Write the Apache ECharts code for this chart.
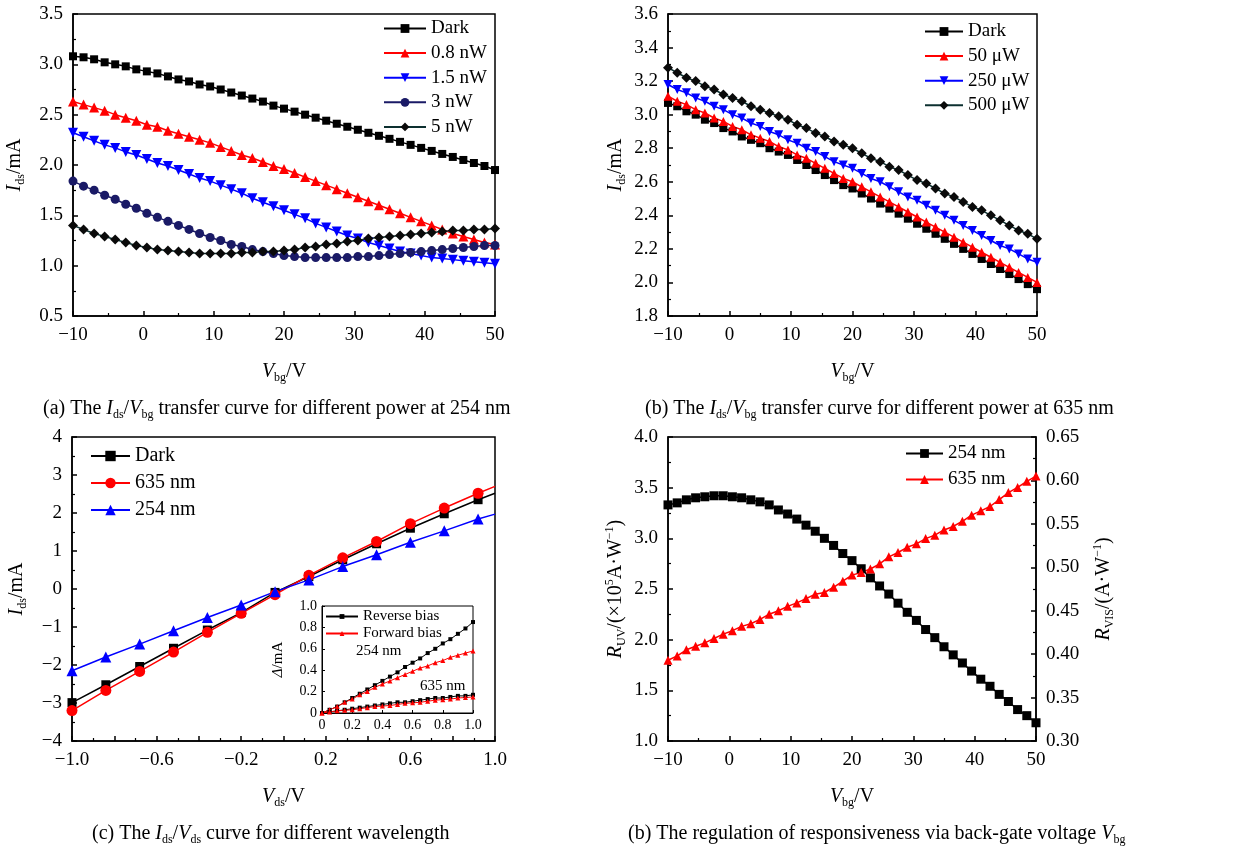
<!DOCTYPE html>
<html>
<head>
<meta charset="utf-8">
<script src="https://cdn.jsdelivr.net/npm/echarts@6/dist/echarts.min.js"></script>
<style>
  html, body { margin: 0; padding: 0; background: #fff; }
  #chart { width: 1243px; height: 852px; }
</style>
</head>
<body>
<div id="chart"></div>
<script>
// back-gate voltage sweep, shared by panels (a), (b), (d)
const vbg = [-10, -8.5, -7, -5.5, -4, -2.5, -1, 0.5, 2, 3.5, 5, 6.5, 8, 9.5, 11, 12.5, 14, 15.5, 17, 18.5,
  20, 21.5, 23, 24.5, 26, 27.5, 29, 30.5, 32, 33.5, 35, 36.5, 38, 39.5, 41, 42.5, 44, 45.5, 47, 48.5, 50];

// (a) 254 nm, different power
const aDark = [3.08, 3.07, 3.05, 3.02, 3.00, 2.98, 2.95, 2.93, 2.91, 2.88, 2.85, 2.83, 2.80, 2.78, 2.75, 2.72, 2.69, 2.66, 2.63, 2.59,
  2.56, 2.53, 2.50, 2.47, 2.44, 2.41, 2.38, 2.35, 2.32, 2.29, 2.26, 2.23, 2.20, 2.17, 2.14, 2.11, 2.08, 2.05, 2.02, 1.99, 1.95];
const a08 = [2.63, 2.60, 2.57, 2.54, 2.50, 2.47, 2.44, 2.40, 2.38, 2.34, 2.31, 2.28, 2.25, 2.22, 2.18, 2.14, 2.10, 2.07, 2.03, 1.99,
  1.96, 1.92, 1.88, 1.84, 1.80, 1.76, 1.72, 1.68, 1.64, 1.60, 1.56, 1.52, 1.48, 1.44, 1.40, 1.36, 1.32, 1.29, 1.26, 1.23, 1.21];
const a15 = [2.32, 2.28, 2.24, 2.20, 2.17, 2.13, 2.10, 2.06, 2.02, 1.99, 1.95, 1.91, 1.87, 1.84, 1.80, 1.76, 1.72, 1.67, 1.63, 1.59,
  1.55, 1.51, 1.47, 1.42, 1.38, 1.34, 1.30, 1.27, 1.23, 1.20, 1.17, 1.14, 1.12, 1.10, 1.08, 1.07, 1.06, 1.05, 1.04, 1.03, 1.02];
const a3 = [1.84, 1.79, 1.75, 1.70, 1.66, 1.61, 1.57, 1.52, 1.48, 1.44, 1.40, 1.36, 1.32, 1.28, 1.25, 1.21, 1.19, 1.16, 1.14, 1.12,
  1.10, 1.09, 1.08, 1.08, 1.08, 1.08, 1.08, 1.09, 1.09, 1.10, 1.11, 1.12, 1.13, 1.14, 1.15, 1.16, 1.17, 1.18, 1.19, 1.20, 1.20];
const a5 = [1.40, 1.36, 1.32, 1.29, 1.26, 1.23, 1.20, 1.18, 1.16, 1.15, 1.14, 1.13, 1.12, 1.12, 1.12, 1.12, 1.13, 1.13, 1.14, 1.14,
  1.15, 1.16, 1.18, 1.19, 1.21, 1.22, 1.24, 1.25, 1.27, 1.28, 1.29, 1.30, 1.31, 1.32, 1.33, 1.34, 1.35, 1.35, 1.36, 1.36, 1.37];

// (b) 635 nm, different power
const bDark = [3.07, 3.05, 3.02, 3.00, 2.97, 2.95, 2.92, 2.90, 2.87, 2.85, 2.83, 2.80, 2.78, 2.76, 2.73, 2.70, 2.67, 2.64, 2.61, 2.58,
  2.56, 2.53, 2.50, 2.47, 2.44, 2.41, 2.38, 2.35, 2.32, 2.29, 2.26, 2.23, 2.20, 2.17, 2.14, 2.11, 2.08, 2.05, 2.02, 1.99, 1.96];
const b50 = [3.11, 3.08, 3.06, 3.03, 3.01, 2.98, 2.96, 2.93, 2.91, 2.88, 2.86, 2.84, 2.81, 2.79, 2.76, 2.74, 2.71, 2.68, 2.65, 2.62,
  2.60, 2.57, 2.54, 2.51, 2.48, 2.45, 2.42, 2.39, 2.36, 2.33, 2.30, 2.27, 2.24, 2.21, 2.18, 2.15, 2.12, 2.09, 2.06, 2.03, 2.00];
const b250 = [3.18, 3.15, 3.13, 3.10, 3.08, 3.05, 3.03, 3.00, 2.98, 2.95, 2.93, 2.90, 2.88, 2.85, 2.83, 2.80, 2.78, 2.75, 2.72, 2.70,
  2.68, 2.65, 2.62, 2.60, 2.57, 2.54, 2.51, 2.49, 2.46, 2.43, 2.40, 2.37, 2.34, 2.31, 2.28, 2.25, 2.22, 2.20, 2.17, 2.14, 2.12];
const b500 = [3.28, 3.25, 3.22, 3.20, 3.17, 3.15, 3.12, 3.10, 3.08, 3.05, 3.03, 3.01, 2.99, 2.97, 2.94, 2.92, 2.89, 2.87, 2.84, 2.82,
  2.80, 2.77, 2.74, 2.72, 2.69, 2.67, 2.64, 2.61, 2.59, 2.56, 2.53, 2.51, 2.48, 2.45, 2.43, 2.40, 2.37, 2.34, 2.31, 2.29, 2.26];

// (c) Ids-Vds, last point has no marker
const vds = [-1.0, -0.84, -0.68, -0.52, -0.36, -0.20, -0.04, 0.12, 0.28, 0.44, 0.60, 0.76, 0.92, 1.0];
const cDark = [-2.99, -2.52, -2.04, -1.56, -1.08, -0.62, -0.09, 0.33, 0.77, 1.19, 1.60, 1.98, 2.35, 2.52];
const c635 = [-3.20, -2.67, -2.17, -1.66, -1.14, -0.64, -0.15, 0.36, 0.82, 1.25, 1.72, 2.13, 2.52, 2.70];
const c254 = [-2.15, -1.79, -1.45, -1.10, -0.75, -0.42, -0.07, 0.24, 0.59, 0.90, 1.23, 1.53, 1.84, 1.97];

// (c) inset
const ix = [0, 0.05, 0.1, 0.15, 0.2, 0.25, 0.3, 0.35, 0.4, 0.45, 0.5, 0.55, 0.6, 0.65, 0.7, 0.75, 0.8, 0.85, 0.9, 0.95, 1.0];
const rev254 = [0, 0.03, 0.06, 0.10, 0.14, 0.18, 0.22, 0.26, 0.30, 0.34, 0.38, 0.43, 0.47, 0.51, 0.56, 0.60, 0.65, 0.69, 0.74, 0.79, 0.85];
const fwd254 = [0, 0.03, 0.06, 0.10, 0.13, 0.17, 0.20, 0.24, 0.27, 0.30, 0.33, 0.36, 0.39, 0.42, 0.44, 0.47, 0.49, 0.52, 0.54, 0.56, 0.58];
const rev635 = [0, 0.01, 0.02, 0.03, 0.04, 0.05, 0.06, 0.07, 0.08, 0.09, 0.10, 0.10, 0.11, 0.12, 0.13, 0.14, 0.14, 0.15, 0.16, 0.16, 0.17];
const fwd635 = [0, 0.01, 0.02, 0.025, 0.03, 0.04, 0.05, 0.06, 0.065, 0.07, 0.08, 0.09, 0.095, 0.10, 0.11, 0.12, 0.125, 0.13, 0.14, 0.145, 0.15];

// (d) responsivity
const dUV = [3.33, 3.35, 3.38, 3.40, 3.41, 3.42, 3.42, 3.41, 3.40, 3.38, 3.36, 3.33, 3.28, 3.24, 3.19, 3.13, 3.07, 3.00, 2.93, 2.85,
  2.78, 2.70, 2.61, 2.53, 2.45, 2.36, 2.27, 2.19, 2.10, 2.02, 1.93, 1.85, 1.77, 1.69, 1.61, 1.54, 1.46, 1.39, 1.31, 1.25, 1.18];
const dVIS = [0.393, 0.398, 0.405, 0.409, 0.413, 0.418, 0.423, 0.427, 0.432, 0.435, 0.440, 0.446, 0.450, 0.455, 0.459, 0.464, 0.469, 0.471, 0.477, 0.484,
  0.491, 0.494, 0.498, 0.504, 0.512, 0.517, 0.523, 0.527, 0.533, 0.537, 0.543, 0.547, 0.553, 0.560, 0.565, 0.570, 0.578, 0.586, 0.592, 0.599, 0.605];

const FONT = '"Liberation Serif", "Times New Roman", serif';
const DOWN = 'path://M0,0 L10,0 L5,9 Z';

const rich = size => {
  const base = { fontFamily: FONT, fontWeight: 'normal', color: '#000' };
  const sub = Math.round(size * 0.62);
  return {
    n: Object.assign({ fontSize: size, lineHeight: 24 }, base),
    i: Object.assign({ fontSize: size, lineHeight: 24, fontStyle: 'italic' }, base),
    s: Object.assign({ fontSize: sub, lineHeight: 10, verticalAlign: 'bottom' }, base),
    p: Object.assign({ fontSize: sub, lineHeight: 10, verticalAlign: 'top' }, base)
  };
};

const minus = s => String(s).replace('-', '\u2212');
const zip = (xs, ys) => xs.map((x, i) => [x, ys[i]]);
const fmt1 = v => minus(v.toFixed(1));
const label = (formatter, extra) => Object.assign({ color: '#000', fontFamily: FONT, fontSize: 19, margin: 10, formatter }, extra);

function axis(opt) {
  return Object.assign({
    type: 'value',
    nameLocation: 'middle',
    nameGap: 44,
    nameTextStyle: { rich: rich(20) },
    axisLine: { onZero: false, lineStyle: { color: '#000', width: 1.5 } },
    axisTick: { inside: true, length: 5, lineStyle: { color: '#000', width: 1.5 } },
    minorTick: { show: true, splitNumber: 2, length: 3, lineStyle: { color: '#000', width: 1.2 } },
    splitLine: { show: false }
  }, opt);
}

function line(name, xs, ys, xi, color, symbol, size, lineColor) {
  return {
    type: 'line', name, xAxisIndex: xi, yAxisIndex: xi,
    data: zip(xs, ys),
    symbol, symbolSize: size,
    lineStyle: { color: lineColor || color, width: 1.5 },
    itemStyle: { color, borderWidth: 0 },
    animation: false
  };
}

const legendBase = {
  orient: 'vertical', selectedMode: false, padding: 0,
  textStyle: { fontFamily: FONT, fontSize: 19, color: '#000' },
  formatter: name => name.slice(2)
};

const insetTicks = {
  axisLine: { onZero: false, lineStyle: { color: '#000', width: 1 } },
  axisTick: { inside: true, length: 3, lineStyle: { color: '#000', width: 1 } },
  minorTick: { show: false },
  axisLabel: label(v => v === 0 ? '0' : v.toFixed(1), { fontSize: 14, margin: 5 })
};

const option = {
  backgroundColor: '#fff',
  animation: false,
  grid: [
    { left: 73, top: 14, width: 422, height: 302 },
    { left: 668, top: 14, width: 369, height: 302 },
    { left: 72, top: 437, width: 423, height: 304 },
    { left: 668, top: 437, width: 368, height: 304 },
    { left: 322, top: 606, width: 151, height: 107, backgroundColor: '#fff', borderWidth: 1 }
  ].map(g => Object.assign({ show: true, borderColor: '#000', borderWidth: 1.5 }, g)),
  xAxis: [
    axis({ gridIndex: 0, min: -10, max: 50, interval: 10, name: '{i|V}{s|bg}{n|/V}', axisLabel: label(v => minus(v)) }),
    axis({ gridIndex: 1, min: -10, max: 50, interval: 10, name: '{i|V}{s|bg}{n|/V}', axisLabel: label(v => minus(v)) }),
    axis({ gridIndex: 2, min: -1, max: 1, interval: 0.2, name: '{i|V}{s|ds}{n|/V}',
      axisLabel: label(v => Math.abs(Math.round(v * 10)) % 4 === 2 ? fmt1(v) : '') }),
    axis({ gridIndex: 3, min: -10, max: 50, interval: 10, name: '{i|V}{s|bg}{n|/V}', axisLabel: label(v => minus(v)) }),
    axis(Object.assign({ gridIndex: 4, min: 0, max: 1, interval: 0.2 }, insetTicks))
  ],
  yAxis: [
    axis({ gridIndex: 0, min: 0.5, max: 3.5, interval: 0.5, name: '{i|I}{s|ds}{n|/mA}', nameRotate: 90, nameGap: 46, axisLabel: label(fmt1) }),
    axis({ gridIndex: 1, min: 1.8, max: 3.6, interval: 0.2, name: '{i|I}{s|ds}{n|/mA}', nameRotate: 90, nameGap: 40, axisLabel: label(fmt1) }),
    axis({ gridIndex: 2, min: -4, max: 4, interval: 1, name: '{i|I}{s|ds}{n|/mA}', nameRotate: 90, nameGap: 43, axisLabel: label(v => minus(v)) }),
    axis({ gridIndex: 3, min: 1, max: 4, interval: 0.5, name: '{i|R}{s|UV}{n|/(×10}{p|5}{n|A·W}{p|−1}{n|)}', nameRotate: 90, nameGap: 40, axisLabel: label(fmt1) }),
    axis(Object.assign({ gridIndex: 4, min: 0, max: 1, interval: 0.2, name: '{i|Δ}{n|/mA}', nameRotate: 90, nameGap: 32,
      nameTextStyle: { rich: rich(15) } }, insetTicks)),
    axis({ gridIndex: 3, position: 'right', min: 0.3, max: 0.65, interval: 0.05, name: '{i|R}{s|VIS}{n|/(A·W}{p|−1}{n|)}', nameRotate: 90, nameGap: 56,
      axisLabel: label(v => v.toFixed(2)) })
  ],
  legend: [
    Object.assign({}, legendBase, { data: ['a-Dark', 'a-0.8 nW', 'a-1.5 nW', 'a-3 nW', 'a-5 nW'], left: 383, top: 19, itemWidth: 42, itemHeight: 11, itemGap: 5.6 }),
    Object.assign({}, legendBase, { data: ['b-Dark', 'b-50 μW', 'b-250 μW', 'b-500 μW'], left: 924, top: 22, itemWidth: 38, itemHeight: 11, itemGap: 5.6 }),
    Object.assign({}, legendBase, { data: ['c-Dark', 'c-635 nm', 'c-254 nm'], left: 90, top: 446, itemWidth: 39, itemHeight: 13, itemGap: 7,
      textStyle: { fontFamily: FONT, fontSize: 20, color: '#000' } }),
    Object.assign({}, legendBase, { data: ['d-254 nm', 'd-635 nm'], left: 905, top: 444, itemWidth: 37, itemHeight: 11, itemGap: 7 }),
    Object.assign({}, legendBase, { data: ['i-Reverse bias', 'i-Forward bias'], left: 325, top: 609, itemWidth: 32, itemHeight: 6, itemGap: 2,
      textStyle: { fontFamily: FONT, fontSize: 15, color: '#000' } })
  ],
  title: [
    { left: 43, top: 397, text: '{n|(a) The }{i|I}{s|ds}{n|/}{i|V}{s|bg}{n| transfer curve for different power at 254 nm}' },
    { left: 645, top: 397, text: '{n|(b) The }{i|I}{s|ds}{n|/}{i|V}{s|bg}{n| transfer curve for different power at 635 nm}' },
    { left: 92, top: 822, text: '{n|(c) The }{i|I}{s|ds}{n|/}{i|V}{s|ds}{n| curve for different wavelength}' },
    { left: 628, top: 822, text: '{n|(b) The regulation of responsiveness via back-gate voltage }{i|V}{s|bg}' }
  ].map(t => Object.assign({ padding: 0, textStyle: { fontWeight: 'normal', rich: rich(20) } }, t)),
  graphic: [
    { type: 'text', x: 356, y: 644, style: { text: '254 nm', fontFamily: FONT, fontSize: 15, fill: '#000' } },
    { type: 'text', x: 420, y: 679, style: { text: '635 nm', fontFamily: FONT, fontSize: 15, fill: '#000' } }
  ],
  series: [
    line('a-Dark', vbg, aDark, 0, '#000', 'rect', 8),
    line('a-0.8 nW', vbg, a08, 0, '#ff0000', 'triangle', 10),
    line('a-1.5 nW', vbg, a15, 0, '#0000ff', DOWN, 10),
    line('a-3 nW', vbg, a3, 0, '#1a1a66', 'circle', 9),
    line('a-5 nW', vbg, a5, 0, '#0a0a0a', 'diamond', 10, '#0d3030'),

    line('b-Dark', vbg, bDark, 1, '#000', 'rect', 8),
    line('b-50 μW', vbg, b50, 1, '#ff0000', 'triangle', 9),
    line('b-250 μW', vbg, b250, 1, '#0000ff', DOWN, 9),
    line('b-500 μW', vbg, b500, 1, '#0a0a0a', 'diamond', 10, '#0d3030'),

    line('c-Dark', vds, cDark, 2, '#000', 'rect', 9),
    line('c-635 nm', vds, c635, 2, '#ff0000', 'circle', 11),
    line('c-254 nm', vds, c254, 2, '#0000ff', 'triangle', 11),

    line('d-254 nm', vbg, dUV, 3, '#000', 'rect', 9),
    Object.assign(line('d-635 nm', vbg, dVIS, 3, '#ff0000', 'triangle', 9), { yAxisIndex: 5 }),

    line('i-Reverse bias', ix, rev254, 4, '#000', 'rect', 4),
    line('i-Forward bias', ix, fwd254, 4, '#ff0000', 'triangle', 5),
    line('i-Reverse bias', ix, rev635, 4, '#000', 'rect', 4),
    line('i-Forward bias', ix, fwd635, 4, '#ff0000', 'triangle', 5)
  ]
};

// markers stop at 0.92 in panel (c), the line runs on to 1.0
option.series.slice(9, 12).forEach(s => {
  const last = s.data[s.data.length - 1];
  s.data[s.data.length - 1] = { value: last, symbol: 'none' };
});
option.series.slice(14).forEach(s => { s.lineStyle.width = 1; s.z = 5; });

const chart = echarts.init(document.getElementById('chart'));
chart.setOption(option);
</script>
</body>
</html>
